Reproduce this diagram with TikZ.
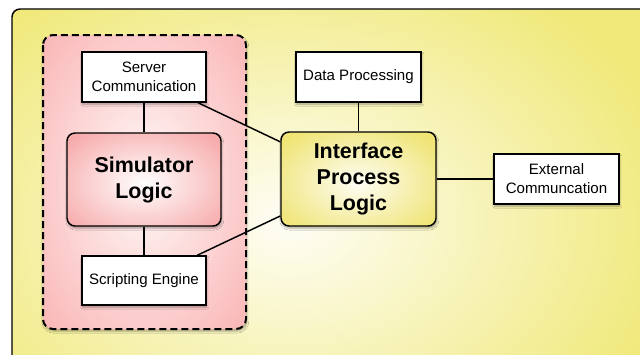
\documentclass[tikz,border=0pt]{standalone}
\usepackage{fontspec}
\setmainfont{Liberation Sans}
\usetikzlibrary{shadows.blur}
\definecolor{youter}{HTML}{F0E97A}
\definecolor{yinner}{HTML}{FEFDF4}
\definecolor{pouter}{HTML}{FBBABA}
\definecolor{pinner}{HTML}{FFF8F8}
\definecolor{souter}{HTML}{F7ACAC}
\definecolor{sinner}{HTML}{FFFDFD}
\definecolor{iouter}{HTML}{EFE474}
\definecolor{iinner}{HTML}{FEFDF2}
\newcommand{\dgsmall}{\fontsize{11.3pt}{14.2pt}\selectfont}
\newcommand{\dgbig}{\fontsize{16.1pt}{19.5pt}\selectfont\bfseries}
\tikzset{
  dgshadow/.style={blur shadow={shadow blur steps=6, shadow xshift=0.6pt, shadow yshift=-1.6pt, shadow opacity=35, shadow blur radius=1.5pt}},
  gradfill/.style n args={5}{path picture={
    \fill[#2] (path picture bounding box.south west) rectangle (path picture bounding box.north east);
    \foreach \k in {0,...,29}{
      \pgfmathsetmacro\pct{100-\k*100/29}
      \pgfmathsetmacro\fr{1-\k/30}
      \fill[#2!\pct!#1] ([yshift=#5]path picture bounding box.center) ellipse [x radius={\fr*#3}, y radius={\fr*#4}];
    }}},
  wbox/.style={draw, fill=white, line width=1.1pt, align=center, font=\dgsmall, inner sep=0pt, dgshadow},
  rbox/.style={draw, line width=1.1pt, rounded corners=6pt, align=center, font=\dgbig, inner sep=0pt, dgshadow},
  conn/.style={line width=1.1pt}
}
\begin{document}
\begin{tikzpicture}[x=0.75pt,y=0.75pt]
\useasboundingbox (0,0) rectangle (640,-354);
\clip (0,0) rectangle (640,-354);
% outer panel with radial gradient
\begin{scope}
  \clip[rounded corners=6pt] (12,-9) rectangle (660,-380);
  \fill[youter] (0,0) rectangle (660,-380);
  \foreach \k in {0,...,59} {
    \pgfmathsetmacro\pct{100-\k*100/59}
    \pgfmathsetmacro\fr{1-\k/60}
    \fill[youter!\pct!yinner] (290,-222) ellipse [x radius={400*\fr}, y radius={290*\fr}];
  }
\end{scope}
\draw[line width=1.1pt, rounded corners=6pt] (12,-9) rectangle (660,-380);
% dashed group
\path[draw, line width=1.5pt, dash pattern=on 5.25pt off 3pt, rounded corners=7.5pt, dgshadow, gradfill={pinner}{pouter}{135}{200}{0pt}] (43,-35) rectangle (246,-329);
% nodes
\node[wbox, minimum width=124*0.75pt, minimum height=50*0.75pt] (srv) at (144,-77) {Server\\Communication};
\node[rbox, gradfill={sinner}{souter}{100}{64}{-3pt}, minimum width=154*0.75pt, minimum height=93*0.75pt] (sim) at (144,-179.5) {Simulator\\Logic};
\node[wbox, minimum width=124*0.75pt, minimum height=49*0.75pt] (scr) at (144,-280.5) {Scripting Engine};
\node[wbox, minimum width=125*0.75pt, minimum height=50*0.75pt] (dat) at (358.5,-77) {Data Processing};
\node[rbox, gradfill={iinner}{iouter}{100}{64}{-3pt}, minimum width=155*0.75pt, minimum height=94*0.75pt] (ipl) at (358.5,-179) {Interface\\Process\\Logic};
\node[wbox, minimum width=125*0.75pt, minimum height=50*0.75pt] (ext) at (556.5,-179) {External\\Communcation};
% connectors
\draw[conn] (srv) -- (sim);
\draw[conn] (sim) -- (scr);
\draw[conn] (srv) -- (ipl);
\draw[conn] (scr) -- (ipl);
\draw[conn] (dat) -- (ipl);
\draw[conn] (ipl) -- (ext);
\end{tikzpicture}
\end{document}
